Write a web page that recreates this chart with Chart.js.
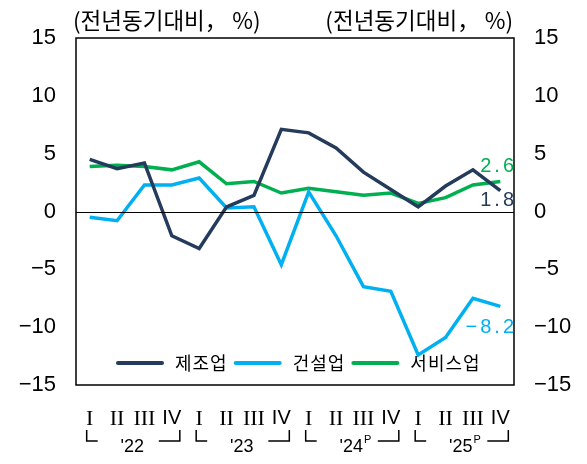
<!DOCTYPE html>
<html>
<head>
<meta charset="utf-8">
<script src="https://cdn.jsdelivr.net/npm/chart.js"></script>
<style>
	html, body { margin: 0; padding: 0; background: #fff; }
</style>
</head>
<body>
<canvas id="chart" width="587" height="464"></canvas>
<script>
const quarters = ['I', 'II', 'III', 'IV', 'I', 'II', 'III', 'IV', 'I', 'II', 'III', 'IV', 'I', 'II', 'III', 'IV'];
const years = ["'22", "'23", "'24", "'25"];
const prelim = [false, false, true, true];

const seriesNames = ['제조업', '건설업', '서비스업'];
const manufacturing = [4.5, 3.7, 4.2, -2.1, -3.2, 0.4, 1.4, 7.1, 6.8, 5.5, 3.4, 1.9, 0.4, 2.2, 3.6, 1.8];
const construction = [-0.5, -0.8, 2.3, 2.3, 2.9, 0.3, 0.4, -4.6, 1.7, -2.1, -6.5, -6.9, -12.4, -10.9, -7.5, -8.2];
const services = [3.9, 4.0, 3.9, 3.6, 4.3, 2.4, 2.6, 1.6, 2.0, 1.7, 1.4, 1.6, 0.7, 1.2, 2.3, 2.6];
const colors = ['#253b5c', '#00b0f0', '#00b050'];

const yTicks = [-15, -10, -5, 0, 5, 10, 15];
const unitLabel = '(전년동기대비， %)';

const FONT = "'Liberation Sans', 'Noto Sans CJK KR', sans-serif";
const KFONT = "'Noto Sans CJK KR', sans-serif";

const fmt = (v) => (v < 0 ? '−' + Math.abs(v) : String(v));

const decorPlugin = {
	id: 'decor',
	afterDatasetsDraw(chart) {
		const ctx = chart.ctx;
		const area = chart.chartArea;
		const x = chart.scales.x;
		const y = chart.scales.y;

		ctx.save();
		// zero line
		let zy = Math.round(y.getPixelForValue(0)) + 0.5;
		ctx.strokeStyle = '#000';
		ctx.lineWidth = 1.2;
		ctx.beginPath();
		ctx.moveTo(area.left, zy);
		ctx.lineTo(area.right, zy);
		ctx.stroke();

		// frame
		ctx.lineWidth = 1.5;
		ctx.strokeRect(area.left, area.top, area.right - area.left, area.bottom - area.top);

		// unit labels
		ctx.fillStyle = '#000';
		ctx.font = '22.5px ' + KFONT;
		ctx.textBaseline = 'middle';
		ctx.textAlign = 'left';
		ctx.fillText(unitLabel, 73, 20);
		ctx.textAlign = 'right';
		ctx.fillText(unitLabel, 513, 20);

		// year brackets
		ctx.lineWidth = 1.5;
		ctx.textBaseline = 'alphabetic';
		years.forEach((yr, i) => {
			let x0 = x.getPixelForValue(i * 4) - 3;
			let x1 = x.getPixelForValue(i * 4 + 3) + 8;
			ctx.beginPath();
			ctx.moveTo(x0, 430);
			ctx.lineTo(x0, 441);
			ctx.lineTo(x0 + 11, 441);
			ctx.moveTo(x1 - 21, 441);
			ctx.lineTo(x1, 441);
			ctx.lineTo(x1, 430);
			ctx.stroke();
			let cx = (x0 + x1) / 2 - 1;
			ctx.textAlign = 'center';
			ctx.font = '18px ' + FONT;
			let w = ctx.measureText(yr).width;
			ctx.fillText(yr, cx, 452);
			if (prelim[i]) {
				ctx.font = '11px ' + FONT;
				ctx.textAlign = 'left';
				ctx.fillText('P', cx + w / 2 + 1, 443);
			}
		});

		// legend inside the plot
		let lx = 118;
		const ly = 363;
		ctx.font = '18px ' + KFONT;
		ctx.textBaseline = 'middle';
		ctx.textAlign = 'left';
		chart.data.datasets.forEach((ds) => {
			ctx.strokeStyle = ds.borderColor;
			ctx.lineWidth = 4;
			ctx.lineCap = 'round';
			ctx.beginPath();
			ctx.moveTo(lx, ly);
			ctx.lineTo(lx + 44, ly);
			ctx.stroke();
			ctx.fillStyle = '#000';
			ctx.letterSpacing = '1px';
			ctx.fillText(ds.label, lx + 57, ly);
			lx += 57 + ctx.measureText(ds.label).width + 8;
		});
		ctx.letterSpacing = '0px';

		// end value labels
		const offsets = [10, 21, -15];
		ctx.font = '20px ' + FONT;
		ctx.textAlign = 'right';
		ctx.letterSpacing = '3px';
		chart.data.datasets.forEach((ds, i) => {
			const meta = chart.getDatasetMeta(i);
			const last = meta.data[meta.data.length - 1];
			ctx.fillStyle = ds.borderColor;
			ctx.fillText(fmt(ds.data[ds.data.length - 1]), area.right + 3, last.y + offsets[i]);
		});
		ctx.restore();
	}
};

const yAxis = (pos, width) => ({
	position: pos,
	min: -15,
	max: 15,
	grid: { display: false, drawTicks: false },
	border: { display: false },
	afterBuildTicks: (s) => { s.ticks = yTicks.map((v) => ({ value: v })); },
	afterFit: (s) => { s.width = width; },
	ticks: {
		color: '#000',
		padding: 20,
		font: { family: FONT, size: 22 },
		callback: (v) => fmt(v)
	}
});

let ctx = document.getElementById('chart').getContext('2d');
let myChart = new Chart(ctx, {
	type: 'line',
	data: {
		labels: quarters,
		datasets: [manufacturing, construction, services].map((d, i) => ({
			label: seriesNames[i],
			data: d,
			borderColor: colors[i],
			backgroundColor: colors[i],
			borderWidth: 3.5,
			pointRadius: 0,
			tension: 0,
			fill: false
		}))
	},
	options: {
		responsive: false,
		animation: false,
		layout: { padding: { top: 38, left: 0, right: 0, bottom: 0 } },
		scales: {
			x: {
				offset: true,
				grid: { display: false, drawTicks: false },
				border: { display: false },
				afterFit: (s) => { s.height = 79; },
				ticks: {
					color: '#000',
					padding: 21,
					autoSkip: false,
					maxRotation: 0,
					font: (c) => (quarters[c.index] === 'IV'
						? { family: FONT, size: 20 }
						: { family: "'Liberation Serif', serif", size: 22 })
				}
			},
			y: yAxis('left', 76),
			y2: yAxis('right', 73)
		},
		plugins: {
			legend: { display: false },
			tooltip: { enabled: false }
		}
	},
	plugins: [decorPlugin]
});
</script>
</body>
</html>
